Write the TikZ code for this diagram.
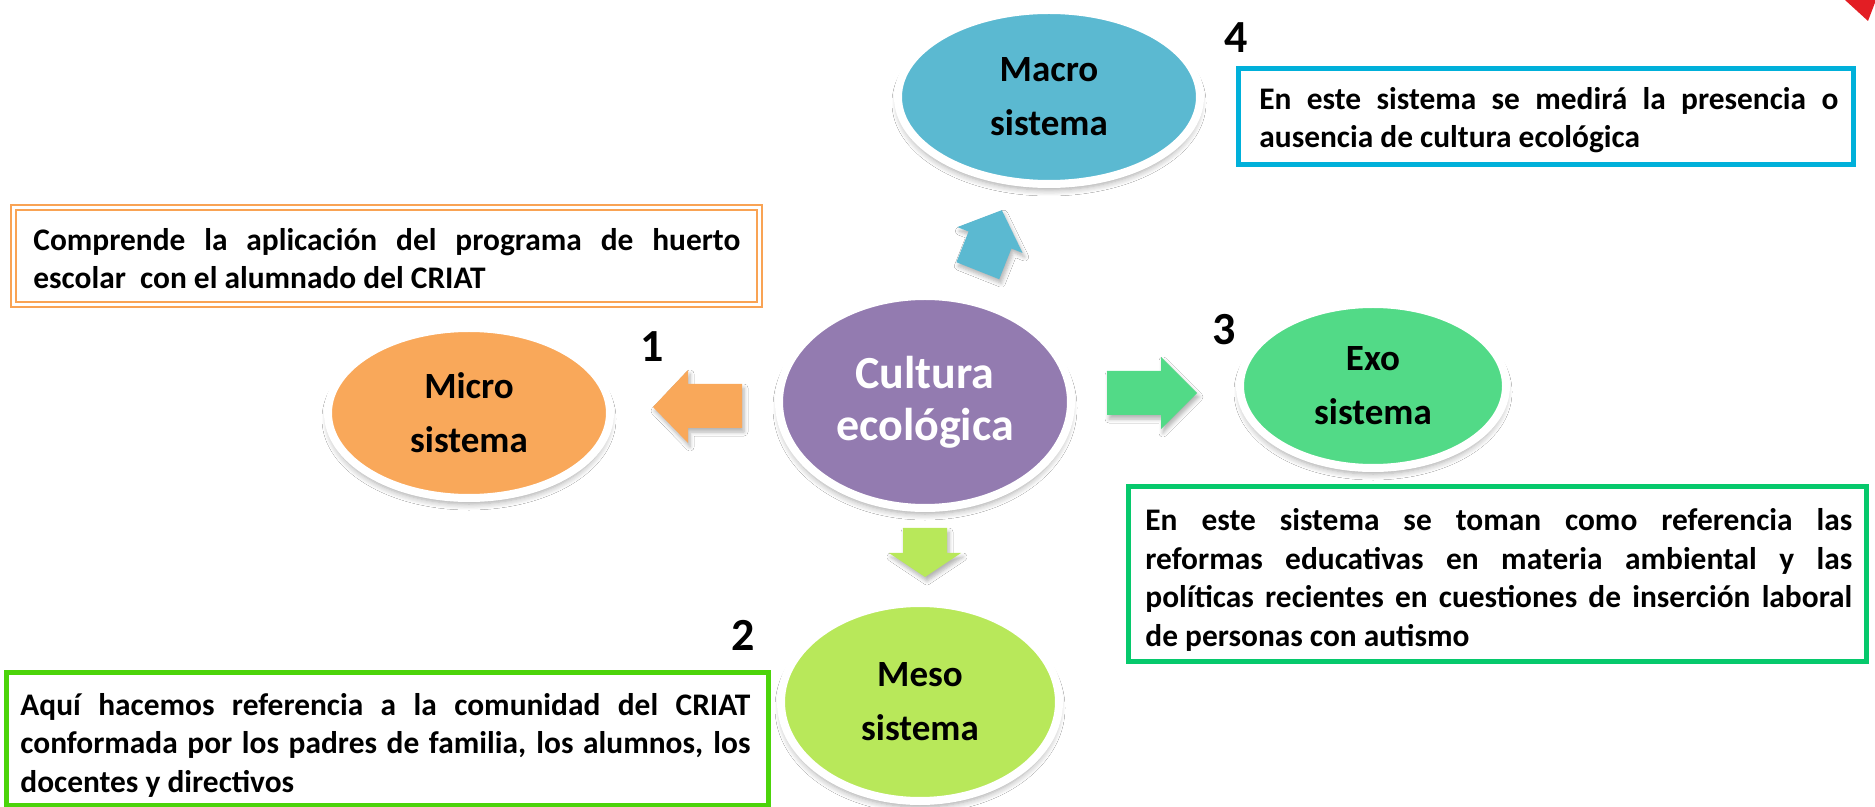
\documentclass[tikz,border=0pt]{standalone}
\usepackage{fontspec}
\setmainfont{Carlito}
\usetikzlibrary{shapes.geometric,shadows.blur}
\definecolor{macroc}{HTML}{5BB9D1}
\definecolor{microc}{HTML}{F9A85A}
\definecolor{ctrc}{HTML}{937BB0}
\definecolor{exoc}{HTML}{52DA87}
\definecolor{mesoc}{HTML}{B8E85A}
\definecolor{blueboxc}{HTML}{00B0DA}
\definecolor{exoboxc}{HTML}{06C96C}
\definecolor{mesoboxc}{HTML}{4CD40A}
\definecolor{orangeboxc}{HTML}{F9A354}
\definecolor{redc}{HTML}{E31E24}
\newcommand\sysfnt{\fontsize{18.5}{27}\selectfont\bfseries}
\newcommand\ctrfnt{\fontsize{23}{26}\selectfont\bfseries}
\newcommand\boxfnt{\fontsize{15.7}{19.25}\selectfont\bfseries\spaceskip=0pt\xspaceskip=0pt}
\newcommand\numfnt{\fontsize{23}{26}\selectfont\bfseries}
\newcommand\jline[2]{\hbox to #1{\spaceskip=0pt\xspaceskip=0pt #2}}
\tikzset{
  sys/.style={ellipse, draw=white, line width=4pt, inner sep=0pt, align=center,
    font=\sysfnt, text=black,
    blur shadow={shadow xshift=0pt, shadow yshift=-3pt, shadow blur steps=6, shadow blur radius=3pt, shadow opacity=35}},
  infobox/.style={rectangle, line width=2.5pt, inner sep=0pt, fill=white},
  boxtxt/.style={font=\boxfnt, align=justify, inner sep=0pt, anchor=west},
  numlbl/.style={font=\numfnt, inner sep=0pt},
  blockarrow/.style={blur shadow={shadow xshift=1pt, shadow yshift=-2pt, shadow blur steps=5, shadow blur radius=2pt, shadow opacity=30}},
}
\begin{document}
\begin{tikzpicture}[x=0.5pt,y=-0.5pt]
\useasboundingbox (0,0) rectangle (1875,807);
\fill[white] (0,0) rectangle (1875,807);
% red corner mark
\fill[redc] (1845,0) -- (1876,0) -- (1868,21) -- cycle;

% boxes
\node[infobox, draw=orangeboxc, line width=0.8pt, minimum width=375.5pt, minimum height=51pt] (obox) at (386.5,256) {};
\node[rectangle, draw=orangeboxc, line width=0.8pt, minimum width=370.5pt, minimum height=46pt, inner sep=0pt] (oboxin) at (386.5,256) {};
\node[boxtxt, text width=353.5pt] (otxt) at (33,258.5) {\jline{353.5pt}{Comprende la aplicación del programa de huerto}\newline escolar\ \ con el alumnado del CRIAT};

\node[infobox, draw=blueboxc, minimum width=307.5pt, minimum height=48pt] (bbox) at (1545.5,117) {};
\node[boxtxt, text width=289.5pt] (btxt) at (1259,120) {\jline{289.5pt}{En este sistema se medirá la presencia o}\newline ausencia de cultura ecológica};

\node[infobox, draw=exoboxc, minimum width=369pt, minimum height=87pt] (ebox) at (1497,574) {};
\node[boxtxt, text width=353.5pt] (etxt) at (1145,580) {\jline{353.5pt}{En este sistema se toman como referencia las}\newline\jline{353.5pt}{reformas educativas en materia ambiental y las}\newline\jline{353.5pt}{políticas recientes en cuestiones de inserción laboral}\newline de personas con autismo};

\node[infobox, draw=mesoboxc, minimum width=381pt, minimum height=66.5pt] (mbox) at (387,738.5) {};
\node[boxtxt, text width=365pt] (mtxt) at (20,745) {\jline{365pt}{Aquí hacemos referencia a la comunidad del CRIAT}\newline\jline{365pt}{conformada por los padres de familia, los alumnos, los}\newline docentes y directivos};

% block arrows
\fill[macroc, blockarrow] (1001.8,210.2) -- (1022.6,253.0) -- (1011.4,248.5) -- (999.2,279.2) -- (956.4,262.2) -- (968.6,231.5) -- (957.4,227.1) -- cycle;
\fill[microc, blockarrow] (742,384) -- (688,384) -- (688,370) -- (653,407) -- (688,443) -- (688,428) -- (742,428) -- cycle;
\fill[exoc, blockarrow] (1107,371) -- (1161,371) -- (1161,357) -- (1197,393) -- (1161,429) -- (1161,415) -- (1107,415) -- cycle;
\fill[mesoc, blockarrow] (903,528) -- (947,528) -- (947,553) -- (961,553) -- (925,577) -- (889,553) -- (903,553) -- cycle;

% system ellipses
\node[sys, fill=macroc, minimum width=151pt, minimum height=87pt] (macro) at (1049,97) {Macro\\sistema};
\node[sys, fill=microc, minimum width=141pt, minimum height=85pt] (micro) at (469,413) {Micro\\sistema};
\node[sys, fill=ctrc, minimum width=146pt, minimum height=106pt, font=\ctrfnt, text=white] (ctr) at (925,402) {Cultura\\ecológica};
\node[sys, fill=exoc, minimum width=133pt, minimum height=82pt] (exo) at (1373,386) {Exo\\sistema};
\node[sys, fill=mesoc, minimum width=139pt, minimum height=99pt] (meso) at (920,702) {Meso\\sistema};

% numbers
\node[numlbl] (n1) at (652,347) {1};
\node[numlbl] (n2) at (743,635) {2};
\node[numlbl] (n3) at (1224,330) {3};
\node[numlbl] (n4) at (1236,38) {4};
\end{tikzpicture}
\end{document}
